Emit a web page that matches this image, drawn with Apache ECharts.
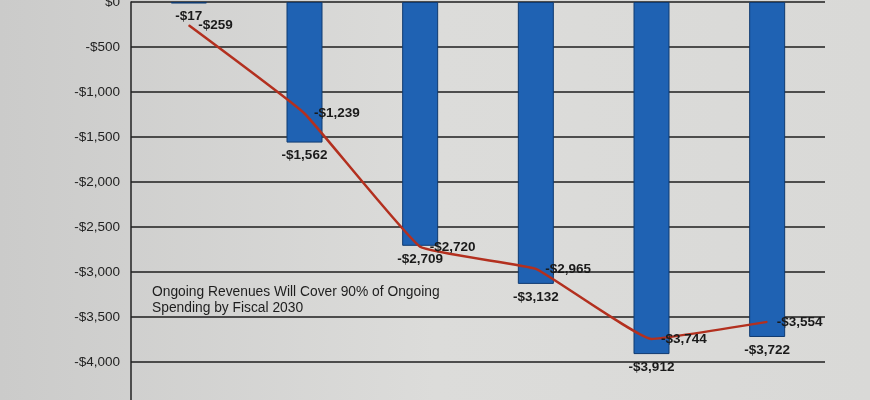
<!DOCTYPE html>
<html><head><meta charset="utf-8">
<script src="https://cdn.jsdelivr.net/npm/echarts@6/dist/echarts.min.js"></script>
<style>html,body{margin:0;padding:0;background:#d8d8d6}#c{width:870px;height:400px}</style>
</head><body><div id="c"></div>
<script>
var categories = ['FY2025','FY2026','FY2027','FY2028','FY2029','FY2030'];
var barValues = [-17, -1562, -2709, -3132, -3912, -3722];
var lineValues = [-259, -1239, -2720, -2965, -3744, -3554];
var noteLines = ['Ongoing Revenues Will Cover 90% of Ongoing', 'Spending by Fiscal 2030'];

function money(v){
  var s = Math.abs(v).toString().replace(/\B(?=(\d{3})+(?!\d))/g, ',');
  return (v < 0 ? '-$' : '$') + s;
}
var chart = echarts.init(document.getElementById('c'));
chart.setOption({
  backgroundColor: {type:'linear',x:0,y:0,x2:1,y2:0,colorStops:[{offset:0,color:'#cbcbca'},{offset:0.5,color:'#dcdcda'},{offset:1,color:'#d9d9d7'}]},
  animation:false,
  textStyle:{fontFamily:'Liberation Sans, Arial, sans-serif'},
  grid:{left:131, top:2, width:694, height:405, outerBoundsMode:'none', containLabel:false},
  xAxis:{type:'category', data:categories, axisLine:{show:false}, axisTick:{show:false}, axisLabel:{show:false}},
  yAxis:{type:'value', min:-4500, max:0, interval:500,
    axisLine:{show:true, lineStyle:{color:'#222', width:1.5}},
    axisTick:{show:false},
    axisLabel:{color:'#222', fontSize:13.5, margin:11, formatter:function(v){return v<=-4500?'':money(v);}},
    splitLine:{lineStyle:{color:'#1e1e1e', width:1.5}}
  },
  series:[
    {type:'bar', data:barValues, barWidth:36,
      itemStyle:{color:'#1f62b3', borderColor:'#0f3a70', borderWidth:1},
      label:{show:true, position:'bottom', distance:6, color:'#1a1a1a', fontWeight:'bold', fontSize:13.5, formatter:function(p){return money(p.value);}}
    },
    {type:'line', data:lineValues, smooth:0.1, symbol:'circle', symbolSize:1, showSymbol:true,
      itemStyle:{color:'#b3301f'},
      lineStyle:{color:'#b3301f', width:2.5},
      label:{show:true, position:'right', distance:9, color:'#1a1a1a', fontWeight:'bold', fontSize:13.5, formatter:function(p){return money(p.value);}},
      labelLayout:{hideOverlap:false}
    }
  ],
  graphic:[
    {type:'text', left:152, top:284, style:{text:noteLines.join('\n'), fill:'#1e1e1e', fontSize:13.8, lineHeight:16, fontFamily:'Liberation Sans, Arial, sans-serif'}}
  ]
});
</script></body></html>
